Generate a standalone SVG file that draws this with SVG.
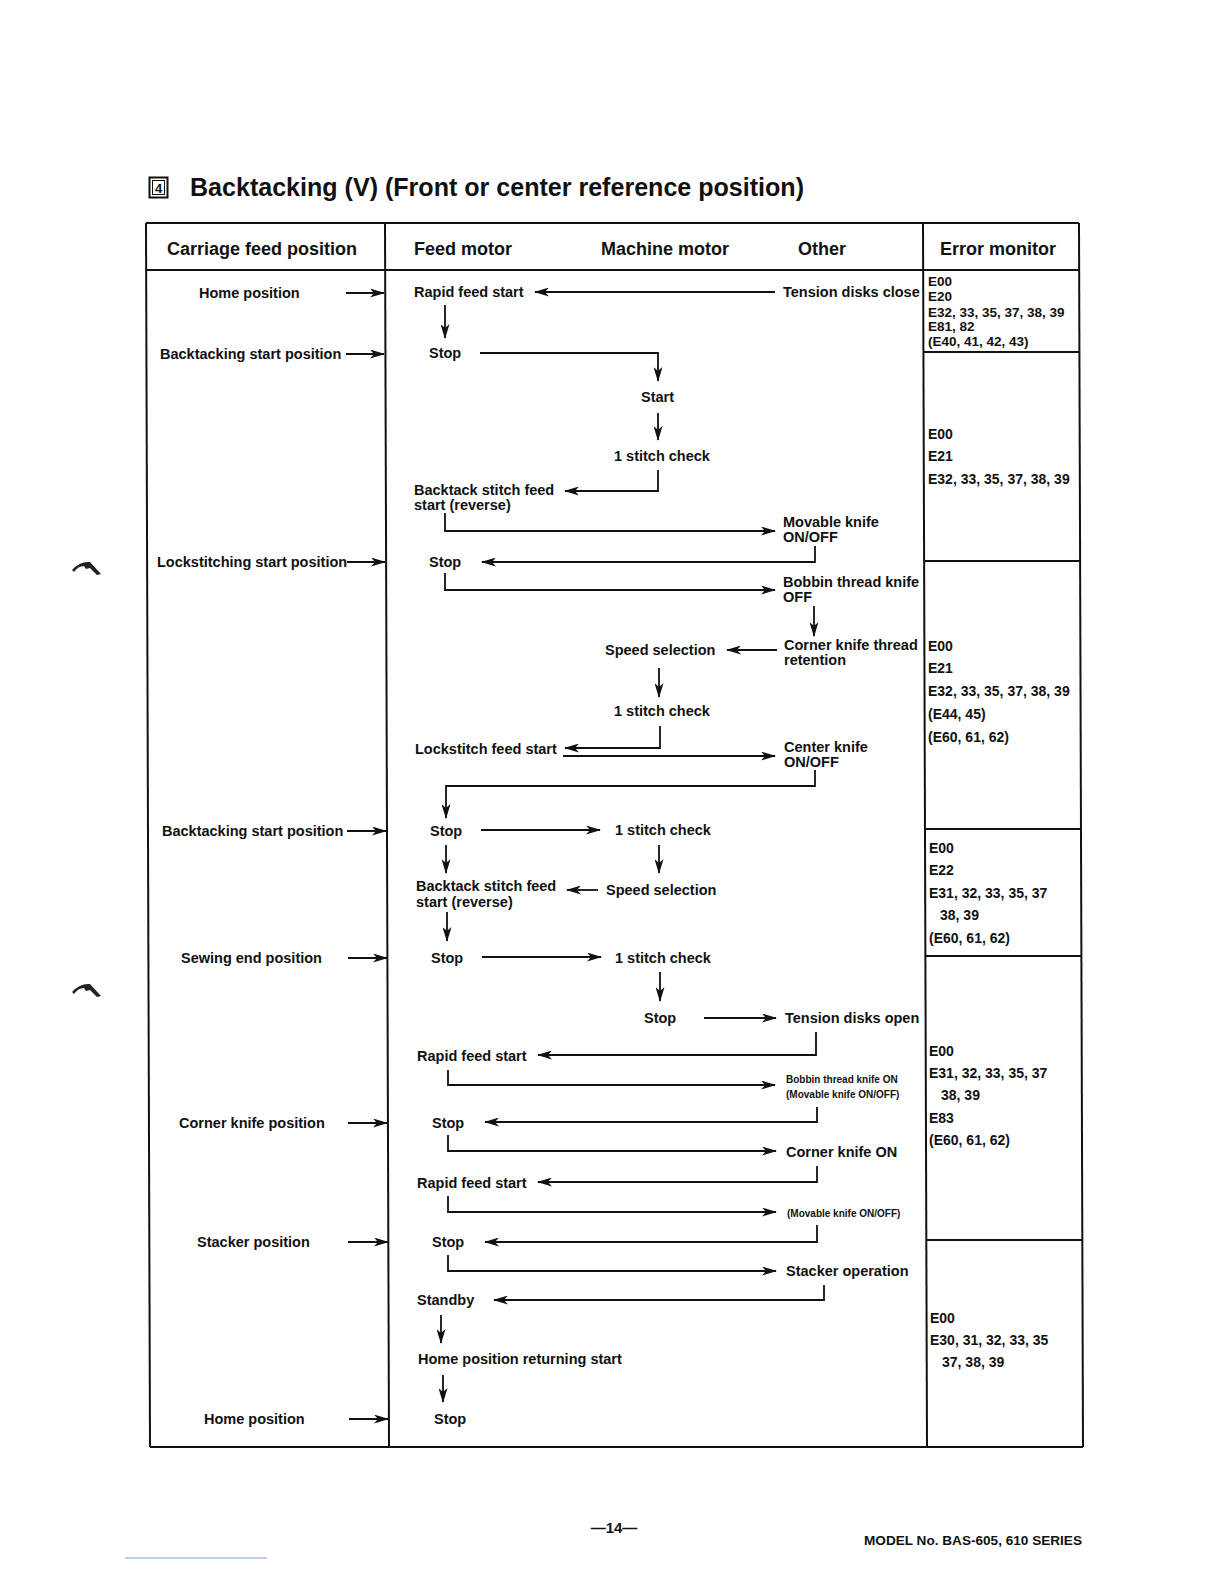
<svg xmlns="http://www.w3.org/2000/svg" width="1224" height="1584" viewBox="0 0 1224 1584">
<style>
text{font-family:"Liberation Sans",Arial,sans-serif;font-weight:bold;fill:#111}
.t{font-size:14.5px}
.s{font-size:10px}
.e{font-size:14px}
.e1{font-size:13.5px}
.h{font-size:18px}
.ln{stroke:#111;stroke-width:1.8;fill:none}
.ar{stroke:#111;stroke-width:1.8;fill:none;marker-end:url(#ah)}
.bd{stroke:#111;stroke-width:2;fill:none}
</style>
<defs>
<marker id="ah" viewBox="0 0 15 9" refX="14" refY="4.5" markerWidth="15" markerHeight="9" markerUnits="userSpaceOnUse" orient="auto"><path d="M0,0 L15,4.5 L0,9 L4,4.5 z" fill="#111"/></marker>
</defs>
<rect width="1224" height="1584" fill="#fff"/>

<g id="title">
<rect x="149.5" y="177.5" width="18" height="20" fill="none" stroke="#111" stroke-width="2"/>
<rect x="152.5" y="180.5" width="12" height="14" fill="none" stroke="#111" stroke-width="1"/>
<text x="158.5" y="193" font-size="13" text-anchor="middle">4</text>
<text x="190" y="196" font-size="26" textLength="614" lengthAdjust="spacingAndGlyphs">Backtacking (V) (Front or center reference position)</text>
</g>

<g id="table">
<line class="bd" x1="146" y1="223" x2="1079" y2="223"/>
<line class="bd" x1="146" y1="270" x2="1079" y2="270"/>
<line class="bd" x1="146" y1="223" x2="150" y2="1447"/>
<line class="bd" x1="1079" y1="223" x2="1083" y2="1447"/>
<line class="bd" x1="150" y1="1447" x2="1083" y2="1447"/>
<line class="bd" x1="385" y1="223" x2="389" y2="1447"/>
<line class="bd" x1="923" y1="223" x2="927" y2="1447"/>
<line class="bd" x1="924" y1="352" x2="1079" y2="352"/>
<line class="bd" x1="925" y1="561" x2="1080" y2="561"/>
<line class="bd" x1="925" y1="829" x2="1081" y2="829"/>
<line class="bd" x1="926" y1="956" x2="1081" y2="956"/>
<line class="bd" x1="926" y1="1240" x2="1082" y2="1240"/>
<text class="h" x="262" y="255" text-anchor="middle">Carriage feed position</text>
<text class="h" x="414" y="255">Feed motor</text>
<text class="h" x="665" y="255" text-anchor="middle">Machine motor</text>
<text class="h" x="822" y="255" text-anchor="middle">Other</text>
<text class="h" x="998" y="255" text-anchor="middle">Error monitor</text>
</g>

<g id="carriage">
<text class="t" x="199" y="298">Home position</text>
<text class="t" x="160" y="359">Backtacking start position</text>
<text class="t" x="157" y="567">Lockstitching start position</text>
<text class="t" x="162" y="836">Backtacking start position</text>
<text class="t" x="181" y="963">Sewing end position</text>
<text class="t" x="179" y="1128">Corner knife position</text>
<text class="t" x="197" y="1247">Stacker position</text>
<text class="t" x="204" y="1424">Home position</text>
</g>

<g id="n-rapid1"><text class="t" x="414" y="297">Rapid feed start</text></g>
<g id="n-tension-close"><text class="t" x="783" y="297">Tension disks close</text></g>
<g id="n-stop1"><text class="t" x="429" y="358">Stop</text></g>
<g id="n-start"><text class="t" x="641" y="402">Start</text></g>
<g id="n-check1"><text class="t" x="614" y="461">1 stitch check</text></g>
<g id="n-backtack1"><text class="t" x="414" y="495">Backtack stitch feed</text><text class="t" x="414" y="510">start (reverse)</text></g>
<g id="n-movable1"><text class="t" x="783" y="527">Movable knife</text><text class="t" x="783" y="542">ON/OFF</text></g>
<g id="n-stop2"><text class="t" x="429" y="567">Stop</text></g>
<g id="n-bobbin-off"><text class="t" x="783" y="587">Bobbin thread knife</text><text class="t" x="783" y="602">OFF</text></g>
<g id="n-corner-ret"><text class="t" x="784" y="650">Corner knife thread</text><text class="t" x="784" y="665">retention</text></g>
<g id="n-speed1"><text class="t" x="605" y="655">Speed selection</text></g>
<g id="n-check2"><text class="t" x="614" y="716">1 stitch check</text></g>
<g id="n-lockstitch"><text class="t" x="415" y="754">Lockstitch feed start</text></g>
<g id="n-center"><text class="t" x="784" y="752">Center knife</text><text class="t" x="784" y="767">ON/OFF</text></g>
<g id="n-stop3"><text class="t" x="430" y="836">Stop</text></g>
<g id="n-check3"><text class="t" x="615" y="835">1 stitch check</text></g>
<g id="n-backtack2"><text class="t" x="416" y="891">Backtack stitch feed</text><text class="t" x="416" y="907">start (reverse)</text></g>
<g id="n-speed2"><text class="t" x="606" y="895">Speed selection</text></g>
<g id="n-stop4"><text class="t" x="431" y="963">Stop</text></g>
<g id="n-check4"><text class="t" x="615" y="963">1 stitch check</text></g>
<g id="n-stop5"><text class="t" x="644" y="1023">Stop</text></g>
<g id="n-tension-open"><text class="t" x="785" y="1023">Tension disks open</text></g>
<g id="n-rapid2"><text class="t" x="417" y="1061">Rapid feed start</text></g>
<g id="n-bobbin-on"><text class="s" x="786" y="1083">Bobbin thread knife ON</text><text class="s" x="786" y="1098">(Movable knife ON/OFF)</text></g>
<g id="n-stop6"><text class="t" x="432" y="1128">Stop</text></g>
<g id="n-corner-on"><text class="t" x="786" y="1157" font-weight="normal">Corner knife ON</text></g>
<g id="n-rapid3"><text class="t" x="417" y="1188">Rapid feed start</text></g>
<g id="n-movable2"><text class="s" x="787" y="1217">(Movable knife ON/OFF)</text></g>
<g id="n-stop7"><text class="t" x="432" y="1247">Stop</text></g>
<g id="n-stacker"><text class="t" x="786" y="1276">Stacker operation</text></g>
<g id="n-standby"><text class="t" x="417" y="1305">Standby</text></g>
<g id="n-homeret"><text class="t" x="418" y="1364">Home position returning start</text></g>
<g id="n-stop8"><text class="t" x="434" y="1424">Stop</text></g>

<g id="errors">
<text class="e1" x="928" y="286">E00</text>
<text class="e1" x="928" y="301">E20</text>
<text class="e1" x="928" y="317">E32, 33, 35, 37, 38, 39</text>
<text class="e1" x="928" y="331">E81, 82</text>
<text class="e1" x="928" y="346">(E40, 41, 42, 43)</text>
<text class="e" x="928" y="439">E00</text>
<text class="e" x="928" y="461">E21</text>
<text class="e" x="928" y="484">E32, 33, 35, 37, 38, 39</text>
<text class="e" x="928" y="651">E00</text>
<text class="e" x="928" y="673">E21</text>
<text class="e" x="928" y="696">E32, 33, 35, 37, 38, 39</text>
<text class="e" x="928" y="719">(E44, 45)</text>
<text class="e" x="928" y="742">(E60, 61, 62)</text>
<text class="e" x="929" y="853">E00</text>
<text class="e" x="929" y="875">E22</text>
<text class="e" x="929" y="898">E31, 32, 33, 35, 37</text>
<text class="e" x="940" y="920">38, 39</text>
<text class="e" x="929" y="943">(E60, 61, 62)</text>
<text class="e" x="929" y="1056">E00</text>
<text class="e" x="929" y="1078">E31, 32, 33, 35, 37</text>
<text class="e" x="941" y="1100">38, 39</text>
<text class="e" x="929" y="1123">E83</text>
<text class="e" x="929" y="1145">(E60, 61, 62)</text>
<text class="e" x="930" y="1323">E00</text>
<text class="e" x="930" y="1345">E30, 31, 32, 33, 35</text>
<text class="e" x="942" y="1367">37, 38, 39</text>
</g>

<g id="connectors">
<path class="ar" d="M346,293 L384,293"/>
<path class="ar" d="M346,354 L384,354"/>
<path class="ar" d="M347,562 L385,562"/>
<path class="ar" d="M347,831 L386,831"/>
<path class="ar" d="M348,958 L387,958"/>
<path class="ar" d="M348,1123 L387,1123"/>
<path class="ar" d="M348,1242 L388,1242"/>
<path class="ar" d="M349,1419 L388,1419"/>
<path class="ar" d="M775,292 L535,292"/>
<path class="ar" d="M445,305 L445,338"/>
<path class="ar" d="M480,353 L658,353 L658,381"/>
<path class="ar" d="M658,413 L658,440"/>
<path class="ar" d="M658,470 L658,491 L565,491"/>
<path class="ar" d="M445,513 L445,531 L775,531"/>
<path class="ar" d="M815,546 L815,562 L482,562"/>
<path class="ar" d="M445,573 L445,590 L775,590"/>
<path class="ar" d="M814,606 L814,636"/>
<path class="ar" d="M777,650 L727,650"/>
<path class="ar" d="M659,668 L659,697"/>
<path class="ar" d="M660,726 L660,748 L565,748"/>
<path class="ar" d="M563,756 L775,756"/>
<path class="ar" d="M815,770 L815,786 L446,786 L446,818"/>
<path class="ar" d="M481,830 L600,830"/>
<path class="ar" d="M446,845 L446,873"/>
<path class="ar" d="M659,845 L659,873"/>
<path class="ar" d="M598,890 L567,890"/>
<path class="ar" d="M447,912 L447,941"/>
<path class="ar" d="M482,957 L601,957"/>
<path class="ar" d="M660,972 L660,1001"/>
<path class="ar" d="M704,1018 L776,1018"/>
<path class="ar" d="M816,1032 L816,1055 L538,1055"/>
<path class="ar" d="M448,1070 L448,1085 L775,1085"/>
<path class="ar" d="M817,1107 L817,1122 L485,1122"/>
<path class="ar" d="M448,1135 L448,1151 L776,1151"/>
<path class="ar" d="M817,1166 L817,1182 L538,1182"/>
<path class="ar" d="M448,1196 L448,1212 L776,1212"/>
<path class="ar" d="M817,1225 L817,1242 L485,1242"/>
<path class="ar" d="M448,1255 L448,1271 L776,1271"/>
<path class="ar" d="M824,1285 L824,1300 L494,1300"/>
<path class="ar" d="M441,1315 L441,1343"/>
<path class="ar" d="M443,1375 L443,1402"/>
</g>

<g id="footer">
<text x="614" y="1533" font-size="15" font-weight="normal" text-anchor="middle">—14—</text>
<text x="864" y="1545" font-size="12.5" textLength="218" lengthAdjust="spacingAndGlyphs">MODEL No. BAS-605, 610 SERIES</text>
<line x1="125" y1="1558" x2="267" y2="1558" stroke="#7a9fd6" stroke-width="1.2"/>
</g>

<g id="margin-marks" fill="#222">
<path d="M72,570 Q80,561 90,562 L101,574 L97,575 L90,568 L86,569 L84,566 Q78,566 74,572 z"/>
<path d="M72,992 Q80,983 90,984 L101,996 L97,997 L90,990 L86,991 L84,988 Q78,988 74,994 z"/>
</g>
</svg>
